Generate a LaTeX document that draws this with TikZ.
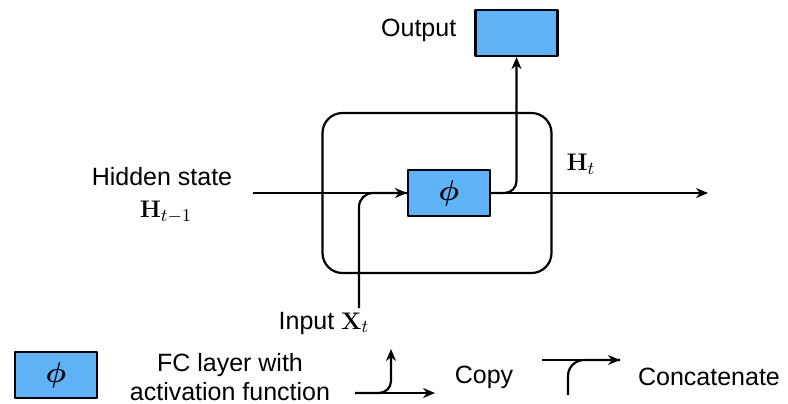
\documentclass[tikz,border=0pt]{standalone}
\usepackage[no-math]{fontspec}
\setmainfont{Liberation Sans}
\usepackage{bm}
\usetikzlibrary{arrows.meta}
\begin{document}
\begin{tikzpicture}[x=0.5pt, y=-0.5pt, font=\fontsize{12.5}{14.5}\selectfont, line width=1.1pt, line join=round, >={Stealth[length=6pt, width=5pt]},
	fc/.style={draw, fill=fcblue, minimum width=41pt, minimum height=23pt, inner sep=0pt, font=\fontsize{14}{16}\selectfont},
	cell/.style={draw, rounded corners=10pt, minimum width=114.5pt, minimum height=80pt, inner sep=0pt}]
	\definecolor{fcblue}{RGB}{95,178,245}
	\useasboundingbox (0,0) rectangle (788,403);
	% cell and layers
	\node[cell] (cell) at (437,193) {};
	\node[fc] (phi) at (449,193) {$\bm{\phi}$};
	\node[fc] (out) at (516.5,33) {};
	\node[left] (outl) at (464,30) {Output};
	% hidden state
	\node (hid) at (162,177) {Hidden state};
	\node (hprev) at (166,212) {$\mathbf{H}_{t-1}$};
	\node (ht) at (581,164) {$\mathbf{H}_t$};
	\coordinate (hin) at (253,193);
	\coordinate (hout) at (708,193);
	\draw[->] (hin) -- (phi.west);
	\draw[->] (phi.east) -- (hout);
	\draw[->, rounded corners=6pt] (phi.east) -| (out.south);
	% input
	\coordinate (xin) at (359,308);
	\node (inl) at (324,323) {Input $\mathbf{X}_t$};
	\draw[rounded corners=7pt] (xin) |- (phi.west);
	% legend
	\node[fc] (lphi) at (56,375) {$\bm{\phi}$};
	\node[align=center] (lfc) at (230,377) {FC layer with\\activation function};
	\coordinate (ca) at (355,393);
	\coordinate (cb) at (435,393);
	\coordinate (cc) at (391,349);
	\draw[->] (ca) -- (cb);
	\draw[->, rounded corners=6pt] (ca) -| (cc);
	\node (lcopy) at (484,377) {Copy};
	\coordinate (ka) at (542,360);
	\coordinate (kb) at (620,360);
	\coordinate (kc) at (568,395);
	\draw[->] (ka) -- (kb);
	\draw[rounded corners=8pt] (kc) |- (kb);
	\node (lcat) at (709,377) {Concatenate};
\end{tikzpicture}
\end{document}
